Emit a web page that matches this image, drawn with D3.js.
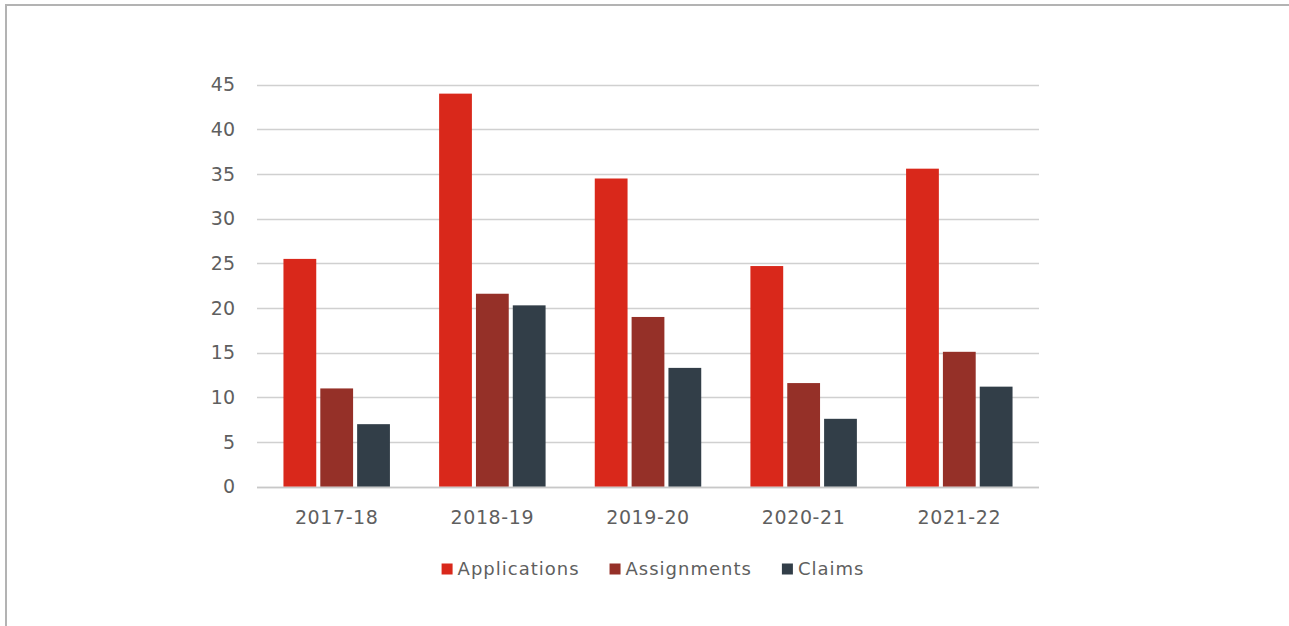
<!DOCTYPE html>
<html>
<head>
<meta charset="utf-8">
<script src="https://cdn.jsdelivr.net/npm/d3@7"></script>
<style>
  html, body { margin: 0; padding: 0; background: #fff; }
  svg { display: block; }
  text { font-family: "DejaVu Sans", sans-serif; fill: #5f5f5f; }
</style>
</head>
<body>
<svg id="chart" width="1289" height="626"></svg>
<script>
// Yearly counts per series
const years = ["2017-18", "2018-19", "2019-20", "2020-21", "2021-22"];
const seriesNames = ["Applications", "Assignments", "Claims"];
const applications = [25.5, 44.0, 34.5, 24.7, 35.6];
const assignments = [11.0, 21.6, 19.0, 11.6, 15.1];
const claims = [7.0, 20.3, 13.3, 7.6, 11.2];
const yTicks = [0, 5, 10, 15, 20, 25, 30, 35, 40, 45];
const colors = ["#d9281b", "#953028", "#323e48"];

const seriesValues = [applications, assignments, claims];

const svg = d3.select("#chart");

// Frame lines along the top and left edges
svg.append("rect").attr("x", 0).attr("y", 0).attr("width", 1289).attr("height", 626).attr("fill", "#fff");
svg.append("line").attr("x1", 5).attr("x2", 1289).attr("y1", 5).attr("y2", 5)
  .attr("stroke", "#b3b3b3").attr("stroke-width", 2);
svg.append("line").attr("x1", 6).attr("x2", 6).attr("y1", 4).attr("y2", 626)
  .attr("stroke", "#b3b3b3").attr("stroke-width", 2);

const plot = { left: 257, right: 1039, top: 84.7, bottom: 486.7 };

const x0 = d3.scaleBand().domain(years).range([plot.left, plot.right]).paddingInner(0.316).paddingOuter(0.17);
const x1 = d3.scaleBand().domain(seriesNames).range([0, x0.bandwidth()]).paddingInner(0.11);
const y = d3.scaleLinear().domain([0, 45]).range([plot.bottom, plot.top]);

// Horizontal gridlines
svg.append("g").selectAll("line").data(yTicks).join("line")
  .attr("x1", plot.left).attr("x2", plot.right)
  .attr("y1", d => Math.round(y(d)) + 0.5).attr("y2", d => Math.round(y(d)) + 0.5)
  .attr("stroke", "#d0d0d0").attr("stroke-width", 1.3);

// Y axis labels
const yAxis = d3.axisLeft(y).tickValues(yTicks).tickSize(0).tickPadding(0);
const yg = svg.append("g").attr("transform", `translate(235,0)`).call(yAxis);
yg.select(".domain").remove();
yg.selectAll("text").style("font-size", "19px").style("fill", "#5f5f5f")
  .style("font-family", "'DejaVu Sans', sans-serif");

// Bars
const groups = svg.append("g").selectAll("g").data(years).join("g")
  .attr("transform", d => `translate(${x0(d)},0)`);
groups.selectAll("rect")
  .data((d, i) => seriesNames.map((s, k) => ({ s, v: seriesValues[k][i], k })))
  .join("rect")
  .attr("x", d => x1(d.s))
  .attr("width", x1.bandwidth())
  .attr("y", d => y(d.v))
  .attr("height", d => y(0) - y(d.v))
  .attr("fill", d => colors[d.k]);

// Baseline
svg.append("line").attr("x1", plot.left).attr("x2", plot.right)
  .attr("y1", Math.round(y(0)) + 0.5).attr("y2", Math.round(y(0)) + 0.5)
  .attr("stroke", "#c8c8c8").attr("stroke-width", 1.3);

// Category axis labels
const xAxis = d3.axisBottom(x0).tickSize(0).tickPadding(0);
const xg = svg.append("g").attr("transform", `translate(0,510)`).call(xAxis);
xg.select(".domain").remove();
xg.selectAll("text").style("font-size", "19px").style("fill", "#5f5f5f")
  .style("letter-spacing", "0.6px")
  .style("font-family", "'DejaVu Sans', sans-serif");

// Legend, centred under the plot
const legend = svg.append("g").attr("transform", "translate(0,569)");
const items = legend.selectAll("g").data(seriesNames).join("g");
items.append("rect").attr("width", 11).attr("height", 11).attr("y", -5.5)
  .attr("fill", (d, i) => colors[i]);
items.append("text").attr("x", 16).attr("dy", "0.35em")
  .style("font-size", "18px").style("letter-spacing", "1px").text(d => d);
let widths = [];
items.each(function () { widths.push(this.getBBox().width); });
const gap = 30;
const total = d3.sum(widths) + gap * (widths.length - 1);
let cx = 653 - total / 2;
items.attr("transform", (d, i) => {
  const t = `translate(${cx},0)`;
  cx += widths[i] + gap;
  return t;
});
</script>
</body>
</html>
